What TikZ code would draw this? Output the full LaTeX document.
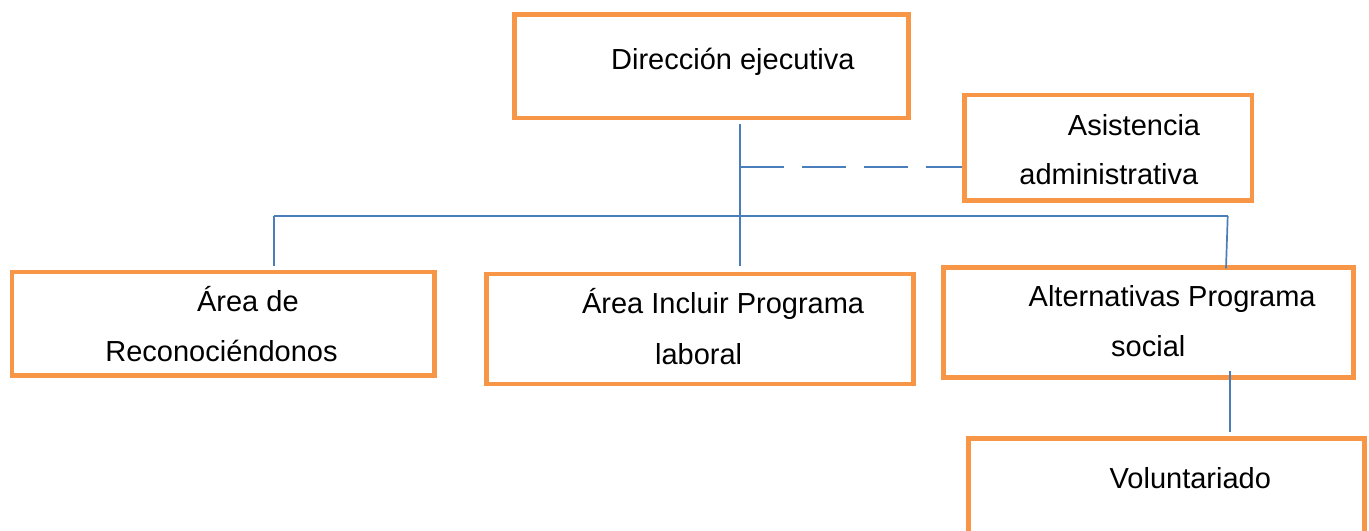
\documentclass[tikz,border=0pt]{standalone}
\usepackage{fontspec}
\setmainfont{Liberation Sans}
\definecolor{boxorange}{HTML}{F79646}
\definecolor{lineblue}{HTML}{4A7EBB}
\begin{document}
\begin{tikzpicture}[x=0.5pt,y=-0.5pt,
  box/.style={draw=boxorange, line width=2.35pt, inner sep=0pt, rectangle},
  txt/.style={inner sep=0pt, anchor=base west, font=\fontsize{14.5pt}{17pt}\selectfont},
  conn/.style={draw=lineblue, line width=0.85pt}]
\clip (0,0) rectangle (1369,530);
\fill[white] (0,0) rectangle (1369,530);
% boxes
\node[box, minimum width=197.1pt, minimum height=51.6pt] (dir) at (711.4,66.4) {};
\node[box, minimum width=143.75pt, minimum height=52.75pt] (asis) at (1108.25,147.75) {};
\node[box, minimum width=211.4pt, minimum height=51.9pt] (rec) at (223.4,323.9) {};
\node[box, minimum width=213.55pt, minimum height=55pt] (inc) at (700.25,329) {};
\node[box, minimum width=204.75pt, minimum height=54.85pt] (alt) at (1148.5,322.6) {};
\node[box, minimum width=198.2pt, minimum height=55pt] (vol) at (1166.5,493.5) {};
% texts
\node[txt] (t1) at (610.8,69.3) {Dirección ejecutiva};
\node[txt] (t2a) at (1067.5,135) {Asistencia};
\node[txt] (t2b) at (1019,184.3) {administrativa};
\node[txt] (t3a) at (196.7,311.7) {Área de};
\node[txt] (t3b) at (105,361.7) {Reconociéndonos};
\node[txt] (t4a) at (581.7,313.3) {Área Incluir Programa};
\node[txt] (t4b) at (654.7,364) {laboral};
\node[txt] (t5a) at (1028.3,306.7) {Alternativas Programa};
\node[txt] (t5b) at (1110.8,356.7) {social};
\node[txt] (t6) at (1109.3,488.3) {Voluntariado};
% junctions
\coordinate (top) at (740,124);
\coordinate (dash) at (740,167);
\coordinate (barL) at (274,216);
\coordinate (barR) at (1227.7,216);
\coordinate (altR) at (1226,268.3);
\coordinate (volTop) at (1230.3,370.7);
% connectors
\draw[conn, shorten >=2.85pt] (top) -- (inc.north -| top);
\draw[conn, dash pattern=on 22pt off 9pt] (dash) -- (dash -| asis.west);
\draw[conn] (barL) -- (barR);
\draw[conn, shorten >=1.85pt] (barL) -- (rec.north -| barL);
\draw[conn] (barR) -- (altR);
\draw[conn, shorten >=2.1pt] (volTop) -- (vol.north -| volTop);
\end{tikzpicture}
\end{document}
